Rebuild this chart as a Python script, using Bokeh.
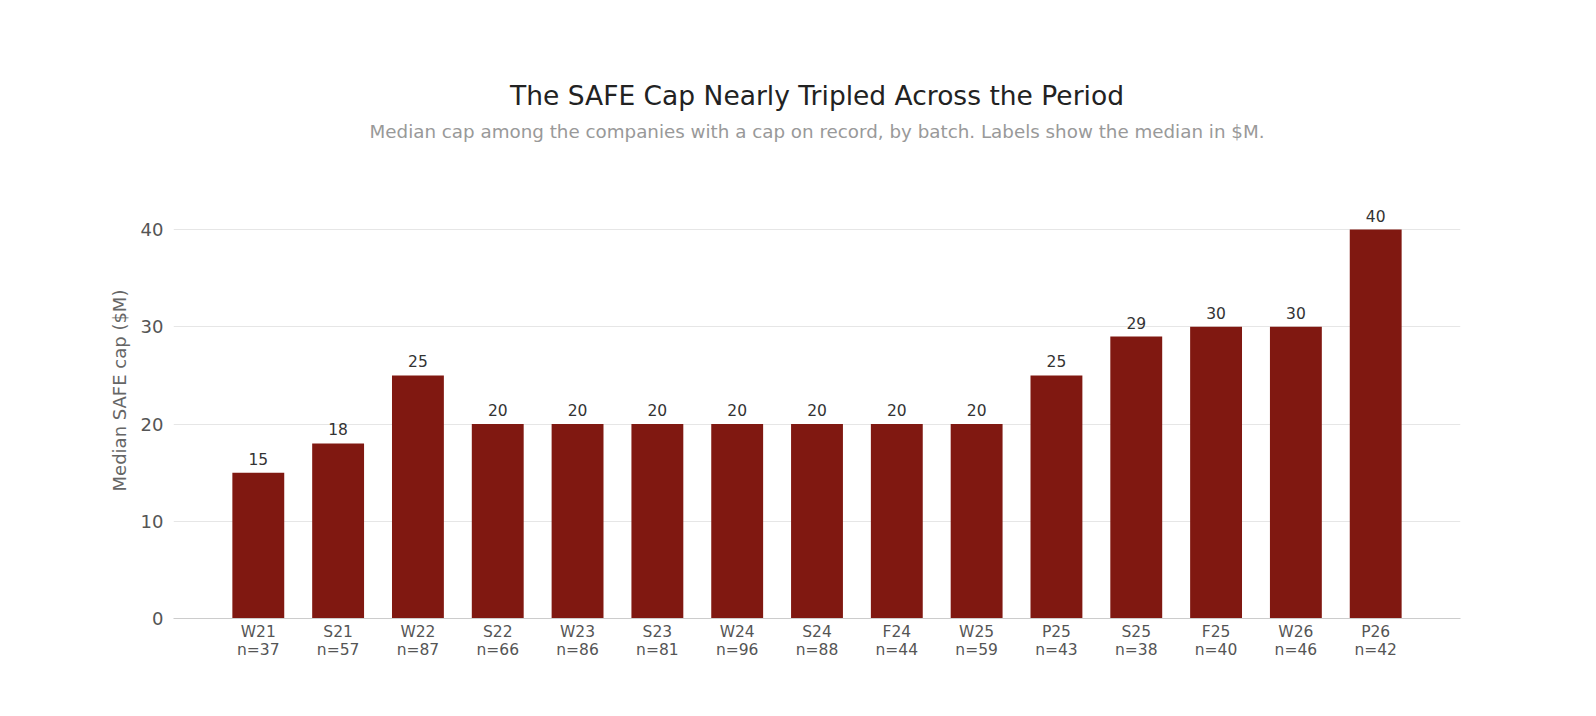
from bokeh.plotting import figure
from bokeh.models import ColumnDataSource, FactorRange, Range1d, Title, LabelSet
from bokeh.core.properties import value
from bokeh.embed import file_html
from bokeh.resources import INLINE

batches = ["W21", "S21", "W22", "S22", "W23", "S23", "W24", "S24", "F24", "W25", "P25", "S25", "F25", "W26", "P26"]
counts = [37, 57, 87, 66, 86, 81, 96, 88, 44, 59, 43, 38, 40, 46, 42]
medians = [15, 18, 25, 20, 20, 20, 20, 20, 20, 20, 25, 29, 30, 30, 40]
y_ticks = [0, 10, 20, 30, 40]

FONT = "DejaVu Sans"

factors = [f"{b}\nn={n}" for b, n in zip(batches, counts)]
src = ColumnDataSource(dict(batch=factors, median=medians, lab=[str(v) for v in medians]))

p = figure(width=1572, height=692, x_range=FactorRange(*factors, range_padding=0.075),
           y_range=Range1d(0, 46.9), output_backend="svg", toolbar_location=None,
           min_border_left=173, min_border_right=112, min_border_top=162, min_border_bottom=74)

p.vbar(x="batch", top="median", width=0.65, source=src, fill_color="#801811", line_color=None)

labels = LabelSet(x="batch", y="median", text="lab", source=src, text_align="center",
                  text_baseline="bottom", y_offset=8, text_font_size="15.5px", text_color="#333333",
                  text_font=value(FONT))
p.add_layout(labels)

p.outline_line_color = None
p.background_fill_color = "white"
p.border_fill_color = "white"

p.xgrid.grid_line_color = None
p.ygrid.grid_line_color = "#e6e6e6"
p.ygrid.grid_line_width = 1.2
p.ygrid.ticker = y_ticks

p.yaxis.ticker = y_ticks
p.yaxis.axis_line_color = None
p.yaxis.major_tick_line_color = None
p.yaxis.minor_tick_line_color = None
p.yaxis.major_label_text_font_size = "18px"
p.yaxis.major_label_text_color = "#555555"
p.yaxis.major_label_text_font = FONT
p.yaxis.major_label_standoff = 4
p.yaxis.axis_label = "Median SAFE cap ($M)"
p.yaxis.axis_label_text_font_size = "18px"
p.yaxis.axis_label_text_font_style = "normal"
p.yaxis.axis_label_text_color = "#666666"
p.yaxis.axis_label_text_font = FONT
p.yaxis.axis_label_standoff = 8

p.xaxis.axis_line_color = "#cccccc"
p.xaxis.axis_line_width = 1.2
p.xaxis.major_tick_line_color = None
p.xaxis.minor_tick_line_color = None
p.xaxis.major_label_text_font_size = "15.5px"
p.xaxis.major_label_text_color = "#555555"
p.xaxis.major_label_text_font = FONT
p.xaxis.major_label_standoff = -2
p.xaxis.major_label_text_line_height = 1.0

p.add_layout(Title(text="Median cap among the companies with a cap on record, by batch. Labels show the median in $M.",
                   align="center", text_font_size="18.3px", text_font_style="normal",
                   text_color="#999999", text_font=FONT, standoff=41, text_line_height=1.0), "above")
p.add_layout(Title(text="The SAFE Cap Nearly Tripled Across the Period", align="center",
                   text_font_size="26.5px", text_font_style="normal", text_color="#222222",
                   text_font=FONT, standoff=-25, text_line_height=0.6), "above")

open("out.html", "w").write(file_html(p, INLINE))
